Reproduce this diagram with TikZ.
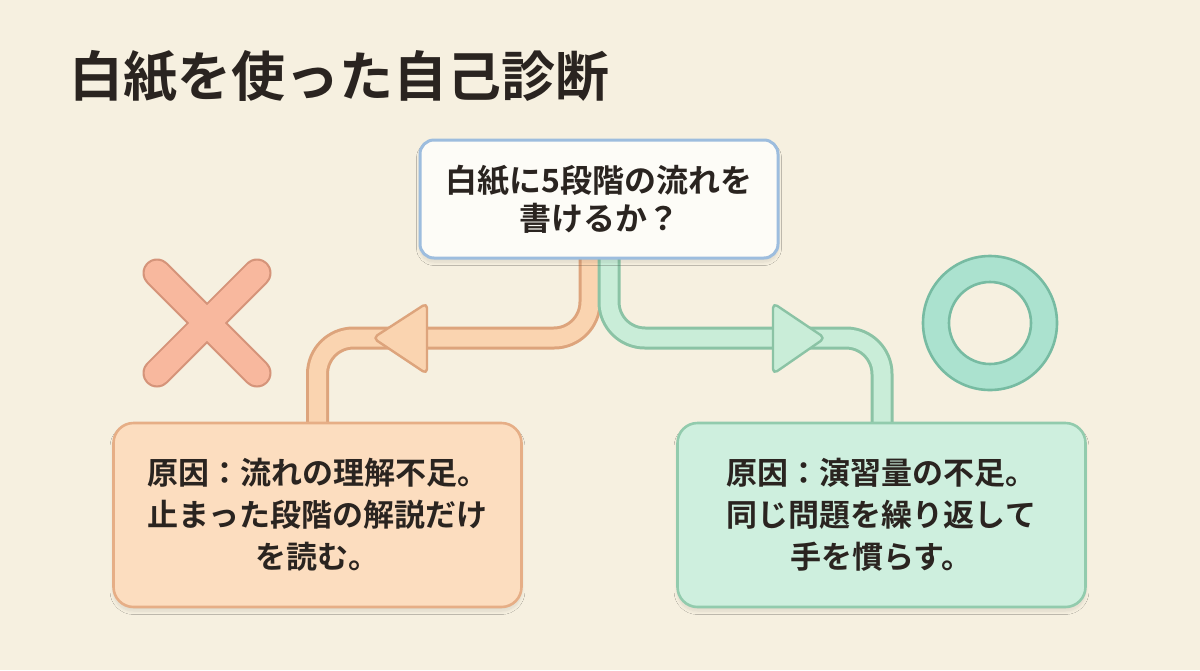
\documentclass[tikz,border=0pt]{standalone}
\usepackage{fontspec}
\newfontfamily\jpb{Noto Sans CJK JP Bold}
\usetikzlibrary{shadows.blur}
\definecolor{bg}{HTML}{F6F0E0}
\definecolor{ink}{HTML}{2A2420}
\definecolor{oFill}{HTML}{FAD4B0}
\definecolor{oLine}{HTML}{DDA47C}
\definecolor{gFill}{HTML}{C9EDD8}
\definecolor{gLine}{HTML}{8BC3A5}
\definecolor{lbFill}{HTML}{FCDDBF}
\definecolor{lbLine}{HTML}{E6AE86}
\definecolor{rbFill}{HTML}{CEEFDE}
\definecolor{rbLine}{HTML}{92CBAD}
\definecolor{qLine}{HTML}{9DBDDE}
\definecolor{qFill}{HTML}{FDFCF7}
\definecolor{xFill}{HTML}{F8B89E}
\definecolor{xLine}{HTML}{D5947A}
\definecolor{ringFill}{HTML}{ABE2CF}
\definecolor{ringLine}{HTML}{77BBA2}
\tikzset{
  softshadow/.style={blur shadow={shadow xshift=0pt, shadow yshift=-2pt, shadow opacity=10, shadow blur steps=10}},
  qbox/.style={draw=qLine, fill=qFill, line width=1.5pt, rounded corners=7pt, align=center, text=ink,
    font=\jpb\fontsize{16}{19}\selectfont, minimum width=179pt, minimum height=59pt, softshadow},
  cbox/.style={line width=1.3pt, rounded corners=10pt, align=center, text=ink,
    font=\jpb\fontsize{15.5}{21}\selectfont, minimum width=204pt, minimum height=92pt, softshadow},
  bandout/.style={line width=11.5pt, rounded corners=18pt},
  bandin/.style={line width=8.5pt, rounded corners=18pt},
  head/.style={line width=1.2pt, rounded corners=2.5pt, line join=round}
}
\begin{document}
\begin{tikzpicture}[x=0.5pt,y=-0.5pt]
\fill[bg] (0,0) rectangle (1200,670);
\useasboundingbox (0,0) rectangle (1200,670);

\node[anchor=west, text=ink, font=\jpb\fontsize{27}{32}\selectfont] (title) at (62,77) {白紙を使った自己診断};

% orange path
\coordinate (oS) at (590,250);
\coordinate (oA) at (590,338);
\coordinate (oB) at (317.5,338);
\coordinate (oE) at (317.5,430);
\draw[bandout, oLine] (oS) -- (oA) -- (oB) -- (oE);
\draw[bandin, oFill] (oS) -- (oA) -- (oB) -- (oE);
\coordinate (oTip) at (373,338);
\coordinate (oTop) at (427,303);
\coordinate (oBot) at (427,374);
\filldraw[head, fill=oFill, draw=oLine] (oTip) -- (oTop) -- (oBot) -- cycle;

% green path
\coordinate (gS) at (609,250);
\coordinate (gA) at (609,338);
\coordinate (gB) at (882,338);
\coordinate (gE) at (882,430);
\draw[bandout, gLine] (gS) -- (gA) -- (gB) -- (gE);
\draw[bandin, gFill] (gS) -- (gA) -- (gB) -- (gE);
\coordinate (gTip) at (825,338);
\coordinate (gTop) at (773,303);
\coordinate (gBot) at (773,374);
\filldraw[head, fill=gFill, draw=gLine] (gTip) -- (gTop) -- (gBot) -- cycle;

% boxes over the band ends
\node[qbox] (q) at (599,199) {白紙に5段階の流れを\\書けるか？};
\node[cbox, draw=lbLine, fill=lbFill] (L) at (317.5,515) {原因：流れの理解不足。\\止まった段階の解説だけ\\を読む。};
\node[cbox, draw=rbLine, fill=rbFill] (R) at (881.5,515) {原因：演習量の不足。\\同じ問題を繰り返して\\手を慣らす。};

% X mark
\coordinate (xc) at (207,323);
\draw[xLine, line width=14.5pt, line cap=round] ($(xc)+(-50,-50)$) -- ($(xc)+(50,50)$);
\draw[xLine, line width=14.5pt, line cap=round] ($(xc)+(50,-50)$) -- ($(xc)+(-50,50)$);
\draw[xFill, line width=12.4pt, line cap=round] ($(xc)+(-50,-50)$) -- ($(xc)+(50,50)$);
\draw[xFill, line width=12.4pt, line cap=round] ($(xc)+(50,-50)$) -- ($(xc)+(-50,50)$);

% O mark
\coordinate (oc) at (990,323);
\fill[ringFill, even odd rule, draw=ringLine, line width=1.3pt] (oc) circle[radius=67] (oc) circle[radius=41];
\end{tikzpicture}
\end{document}
